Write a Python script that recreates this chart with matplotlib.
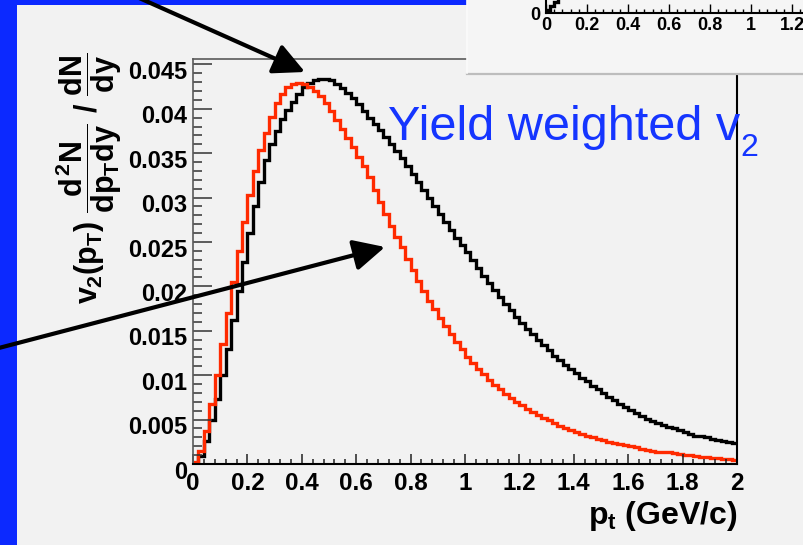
import matplotlib.pyplot as plt
import numpy as np
from matplotlib.patches import Rectangle
from matplotlib.ticker import MultipleLocator
from matplotlib.transforms import ScaledTranslation

plt.rcParams['font.family'] = ['Liberation Sans', 'DejaVu Sans']
plt.rcParams['mathtext.fontset'] = 'custom'
plt.rcParams['mathtext.rm'] = 'Liberation Sans:bold'
plt.rcParams['mathtext.it'] = 'Liberation Sans:bold'
plt.rcParams['mathtext.bf'] = 'Liberation Sans:bold'

# ---- data (100 bins, 0 < pt < 2 GeV/c) ----
pt_min, pt_max = 0.0, 2.0

v2_yield_black = [
    0.0001, 0.0009, 0.0026, 0.0049, 0.0073, 0.0100, 0.0130, 0.0162, 0.0195, 0.0228,
    0.0260, 0.0290, 0.0317, 0.0342, 0.0360, 0.0375, 0.0388, 0.0399, 0.0408, 0.0417,
    0.0424, 0.0429, 0.0432, 0.0434, 0.0434, 0.0432, 0.0428, 0.0423, 0.0418, 0.0412,
    0.0405, 0.0398, 0.0390, 0.0383, 0.0376, 0.0368, 0.0360, 0.0352, 0.0344, 0.0335,
    0.0327, 0.0318, 0.0309, 0.0300, 0.0291, 0.0282, 0.0273, 0.0264, 0.0255, 0.0247,
    0.0239, 0.0230, 0.0221, 0.0212, 0.0204, 0.0196, 0.0188, 0.0180, 0.0173, 0.0166,
    0.0159, 0.0152, 0.0146, 0.0140, 0.0134, 0.0128, 0.0122, 0.0117, 0.0112, 0.0107,
    0.0102, 0.0097, 0.0093, 0.0088, 0.0084, 0.0080, 0.0076, 0.0072, 0.0068, 0.0064,
    0.0061, 0.0057, 0.0054, 0.0051, 0.0048, 0.0046, 0.0044, 0.0042, 0.0040, 0.0038,
    0.0036, 0.0034, 0.0032, 0.0031, 0.0030, 0.0028, 0.0027, 0.0026, 0.0025, 0.0024,
]

v2_yield_red = [
    0.0002, 0.0015, 0.0037, 0.0068, 0.0100, 0.0135, 0.0170, 0.0205, 0.0240, 0.0273,
    0.0303, 0.0330, 0.0353, 0.0373, 0.0391, 0.0406, 0.0417, 0.0424, 0.0428, 0.0429,
    0.0428, 0.0425, 0.0420, 0.0414, 0.0406, 0.0397, 0.0387, 0.0377, 0.0367, 0.0357,
    0.0346, 0.0335, 0.0323, 0.0309, 0.0295, 0.0282, 0.0268, 0.0256, 0.0244, 0.0231,
    0.0218, 0.0206, 0.0195, 0.0184, 0.0174, 0.0164, 0.0155, 0.0146, 0.0137, 0.0129,
    0.0121, 0.0114, 0.0107, 0.0101, 0.0095, 0.0089, 0.0084, 0.0079, 0.0074, 0.0070,
    0.0066, 0.0062, 0.0058, 0.0055, 0.0052, 0.0049, 0.0046, 0.0043, 0.0041, 0.0038,
    0.0036, 0.0034, 0.0032, 0.0030, 0.0028, 0.0027, 0.0025, 0.0024, 0.0022, 0.0021,
    0.0020, 0.0019, 0.0017, 0.0016, 0.0015, 0.0014, 0.0013, 0.0013, 0.0012, 0.0011,
    0.0010, 0.0010, 0.0009, 0.0008, 0.0008, 0.0007, 0.0007, 0.0006, 0.0006, 0.0005,
]

x_ticks = [0, 0.2, 0.4, 0.6, 0.8, 1.0, 1.2, 1.4, 1.6, 1.8, 2.0]
x_tick_labels = ['0', '0.2', '0.4', '0.6', '0.8', '1', '1.2', '1.4', '1.6', '1.8', '2']
y_ticks = [0, 0.005, 0.01, 0.015, 0.02, 0.025, 0.03, 0.035, 0.04, 0.045]
y_tick_labels = ['0', '0.005', '0.01', '0.015', '0.02', '0.025', '0.03', '0.035', '0.04', '0.045']

# partly hidden inset (only its x axis shows)
inset_v2 = [0.003, 0.007, 0.011, 0.015, 0.019, 0.023]
inset_bin_width = 0.02
inset_ticks = [0, 0.2, 0.4, 0.6, 0.8, 1.0, 1.2]
inset_tick_labels = ['0', '0.2', '0.4', '0.6', '0.8', '1', '1.2']

W, H = 804, 545
fig = plt.figure(figsize=(W / 100, H / 100), dpi=100, facecolor='#0c29ff')

# slide background
bg = fig.add_axes([0, 0, 1, 1], zorder=0)
bg.set_xlim(0, W)
bg.set_ylim(H, 0)
bg.axis('off')
bg.add_patch(Rectangle((17, 5), W - 17, H - 5, facecolor='#f2f2f2', edgecolor='none'))

# main histogram frame
ax = fig.add_axes([193 / W, 1 - 464 / H, 544 / W, 405 / H], zorder=1)
ax.set_facecolor('none')
edges = np.linspace(pt_min, pt_max, len(v2_yield_black) + 1)
ax.stairs(v2_yield_black, edges, baseline=None, color='black', lw=2.4)
ax.stairs(v2_yield_red, edges, baseline=None, color='#ff2a00', lw=2.4)
ax.set_xlim(pt_min, pt_max)
ax.set_ylim(0, 0.0456)

ax.set_xticks(x_ticks, x_tick_labels, fontweight='bold')
ax.set_yticks(y_ticks, y_tick_labels, fontweight='bold')
ax.xaxis.set_minor_locator(MultipleLocator(0.04))
ax.yaxis.set_minor_locator(MultipleLocator(0.001))
ax.tick_params(axis='x', which='major', direction='in', length=7, width=1.1,
               pad=6, labelsize=17.5, color='#222222')
ax.tick_params(axis='x', which='minor', direction='in', length=3.5, width=1.1, color='#222222')
ax.tick_params(axis='y', which='major', direction='in', length=13.5, width=1.1,
               pad=4, labelsize=17, color='#333333')
ax.tick_params(axis='y', which='minor', direction='in', length=6.8, width=1.1, color='#333333')
for lbl in ax.get_yticklabels():
    lbl.set_transform(lbl.get_transform() + ScaledTranslation(0, -4 / 72, fig.dpi_scale_trans))
for side in ['left', 'top']:
    ax.spines[side].set_color('#5a5a5a')
    ax.spines[side].set_linewidth(1.2)
for side in ['right', 'bottom']:
    ax.spines[side].set_color('black')
    ax.spines[side].set_linewidth(1.5)

# inset panel in the top right corner
mid = fig.add_axes([0, 0, 1, 1], zorder=2)
mid.set_xlim(0, W)
mid.set_ylim(H, 0)
mid.axis('off')
mid.add_patch(Rectangle((467, 0), W - 467, 73, facecolor='#f5f5f5', edgecolor='none'))
mid.plot([467, W], [73.5, 73.5], color='#bdbdbd', lw=1.6)
mid.plot([467, 467], [0, 73], color='#fbfbfb', lw=1.2)

ins = fig.add_axes([546 / W, 1 - 13 / H, 410 / W, 100 / H], zorder=3)
ins.set_facecolor('none')
ins_edges = np.arange(len(inset_v2) + 1) * inset_bin_width
ins.stairs(inset_v2, ins_edges, baseline=None, color='black', lw=2.4)
ins.set_xlim(0, 2)
ins.set_ylim(0, 0.1)
ins.set_xticks(inset_ticks, inset_tick_labels, fontweight='bold')
ins.set_yticks([0], ['0'], fontweight='bold')
ins.xaxis.set_minor_locator(MultipleLocator(0.04))
ins.tick_params(axis='x', which='major', direction='in', length=6.5, width=1.0, pad=3, labelsize=13)
ins.tick_params(axis='x', which='minor', direction='in', length=3.2, width=1.0)
ins.tick_params(axis='y', which='major', length=0, pad=4, labelsize=13)
ins.spines['top'].set_visible(False)
ins.spines['right'].set_visible(False)
ins.spines['bottom'].set_linewidth(1.5)
ins.spines['left'].set_linewidth(1.5)

# labels, annotation text and arrows
ov = fig.add_axes([0, 0, 1, 1], zorder=4)
ov.set_xlim(0, W)
ov.set_ylim(H, 0)
ov.axis('off')

ov.text(89, 178, r'$v_2(p_T)\ \dfrac{d^2N}{dp_Tdy}\ /\ \dfrac{dN}{dy}$',
        rotation=90, ha='center', va='center', fontsize=22)
ov.text(737, 524, r'$p_t$ (GeV/c)', ha='right', va='baseline',
        fontsize=23, fontweight='bold')

ov.text(388, 140, 'Yield weighted v', color='#1535ff', fontsize=35,
        ha='left', va='baseline')
ov.text(740, 156, '2', color='#1535ff', fontsize=23, ha='left', va='baseline')

arrow_style = dict(arrowstyle='-|>,head_length=0.95,head_width=0.47', lw=3,
                   color='black', mutation_scale=20, shrinkA=0, shrinkB=0)
ov.annotate('', xy=(305, 72), xytext=(128, -7), arrowprops=arrow_style,
            annotation_clip=False)
ov.annotate('', xy=(385, 247), xytext=(-5, 349), arrowprops=arrow_style,
            annotation_clip=False)

fig.savefig('out.png', dpi=100, facecolor=fig.get_facecolor())
